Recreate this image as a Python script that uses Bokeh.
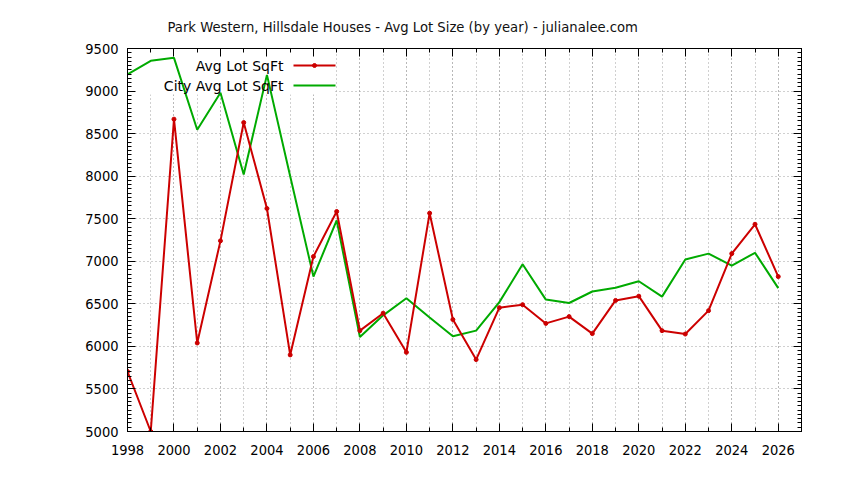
from bokeh.plotting import figure
from bokeh.models import (Range1d, LinearAxis, SingleIntervalTicker, BoxAnnotation,
                          Label, Arrow, Grid, CustomJSTickFormatter)
from bokeh.embed import file_html
from bokeh.resources import INLINE

# ---- data ----
years = list(range(1998, 2027))
avg_lot = [5705, 5000, 8670, 6040, 7240, 8630, 7620, 5900, 7055, 7585,
           6185, 6390, 5930, 7565, 6315, 5845, 6455, 6490, 6270, 6350,
           6150, 6540, 6590, 6185, 6145, 6420, 7090, 7435, 6820]
city_avg = [9195, 9355, 9390, 8545, 8980, 8020, 9190, 8000, 6820, 7480,
            6110, 6365, 6565, 6340, 6120, 6185, 6520, 6965, 6550, 6510,
            6645, 6690, 6765, 6585, 7020, 7090, 6950, 7100, 6685]
series_names = ["Avg Lot SqFt", "City Avg Lot SqFt"]
title_text = "Park Western, Hillsdale Houses - Avg Lot Size (by year) - julianalee.com"

X0, X1 = 1998, 2027
Y0, Y1 = 5000, 9500
RED = "#cc0000"
GREEN = "#00aa00"
FONT = "DejaVu Sans"
TICK_FONT = "DejaVu Sans Condensed, DejaVu Sans"
FW, FH = 674, 383  # frame size in px

p = figure(width=836, height=472, output_backend="svg", toolbar_location=None,
           x_range=Range1d(X0, X1), y_range=Range1d(Y0, Y1),
           min_border_left=127, min_border_right=35, min_border_top=48,
           min_border_bottom=41, x_axis_type=None, y_axis_type=None)
p.background_fill_color = "white"
p.border_fill_color = "white"
p.outline_line_color = "black"
p.outline_line_width = 1

p.title.text = title_text
p.title.text_font = FONT
p.title.text_font_size = "13.2px"
p.title.text_font_style = "normal"
p.title.text_color = "#111111"
p.title.align = "left"
p.title.offset = 40
p.title.standoff = 28

def make_axis(kind, side, labels):
    if kind == "x":
        ticker = SingleIntervalTicker(interval=2, num_minor_ticks=2)
    else:
        ticker = SingleIntervalTicker(interval=500, num_minor_ticks=10)
    ax = LinearAxis(ticker=ticker)
    ax.axis_line_color = "black"
    ax.major_tick_line_color = "black"
    ax.minor_tick_line_color = "black"
    ax.major_tick_in = 8
    ax.major_tick_out = 0
    ax.minor_tick_in = 4
    ax.minor_tick_out = 0
    ax.major_label_text_font = TICK_FONT
    ax.major_label_text_font_size = "14.5px"
    ax.major_label_text_color = "black"
    ax.major_label_standoff = 9 if kind == "y" else 13
    if not labels:
        ax.formatter = CustomJSTickFormatter(code="return ''")
    p.add_layout(ax, side)
    return ax

xb = make_axis("x", "below", True)
yl = make_axis("y", "left", True)
make_axis("x", "above", False)
make_axis("y", "right", False)

# grids
xg = Grid(dimension=0, ticker=xb.ticker)
xg.grid_line_color = "#a0a0a0"
xg.grid_line_dash = "1 3"
xg.minor_grid_line_color = "#a0a0a0"
xg.minor_grid_line_dash = "1 3"
yg = Grid(dimension=1, ticker=yl.ticker)
yg.grid_line_color = "#a0a0a0"
yg.grid_line_dash = "1 3"
p.add_layout(xg)
p.add_layout(yg)

# opaque key box (hides grid, not data)
sx = (X1 - X0) / FW
sy = (Y1 - Y0) / FH
key_box = BoxAnnotation(left=X0, right=X0 + 207 * sx, top=Y1, bottom=Y1 - 46 * sy,
                        fill_color="white", fill_alpha=1.0, line_color=None,
                        level="underlay")
p.add_layout(key_box)

# data
p.line(years, city_avg, line_color=GREEN, line_width=2)
p.line(years, avg_lot, line_color=RED, line_width=2)
p.scatter(years, avg_lot, size=4, color=RED)

# key
text_x = X0 + 156 * sx
samp_x0 = X0 + 166 * sx
samp_x1 = X0 + 208 * sx
rows = [Y1 - 17 * sy, Y1 - 37 * sy]
for name, col, ry, mark in zip(series_names, [RED, GREEN], rows, [True, False]):
    p.add_layout(Label(x=text_x, y=ry, text=name, text_align="right",
                       text_baseline="middle", text_font=FONT,
                       text_font_size="14px", text_color="black"))
    p.add_layout(Arrow(x_start=samp_x0, y_start=ry, x_end=samp_x1, y_end=ry,
                       end=None, start=None, line_color=col, line_width=2))
    if mark:
        p.scatter([(samp_x0 + samp_x1) / 2], [ry], size=4, color=col)

open("out.html", "w").write(file_html(p, INLINE))
